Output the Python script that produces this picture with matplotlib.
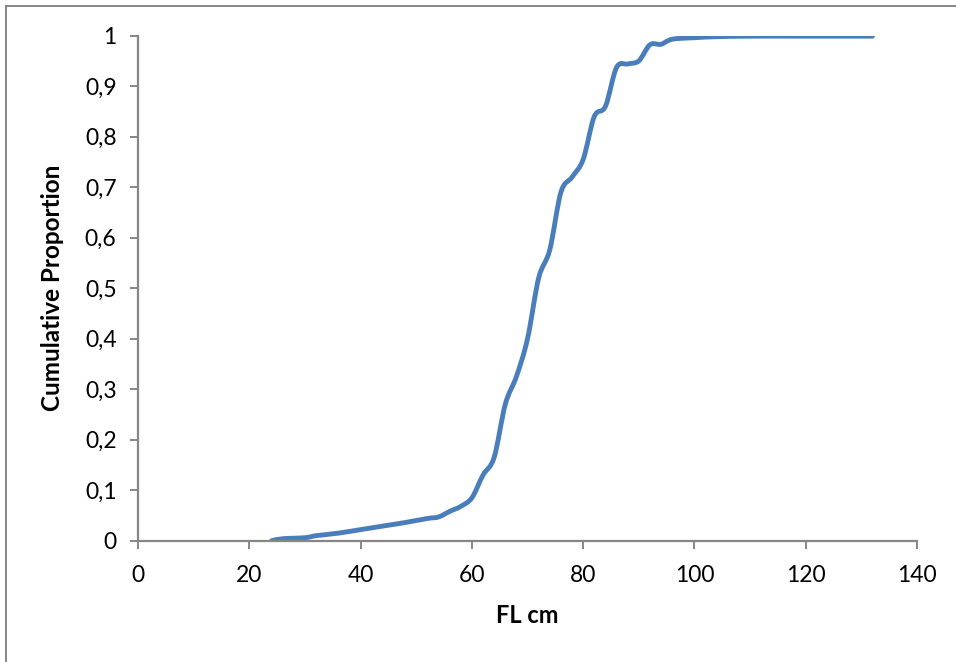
import numpy as np
import matplotlib.pyplot as plt
from matplotlib.path import Path
from matplotlib.patches import PathPatch
from matplotlib.lines import Line2D
from matplotlib.ticker import FuncFormatter

plt.rcParams['font.family'] = ['Lato', 'DejaVu Sans']

# fork length (cm) and cumulative proportion
fl_cm = [24, 26, 30, 32, 36, 40, 44, 48, 52, 54, 56, 58, 60, 62, 64, 66, 68,
         70, 72, 74, 76, 78, 80, 82, 84, 86, 88, 90, 92, 94, 96, 100, 104,
         110, 120, 132]
cum_prop = [0.0, 0.004, 0.006, 0.010, 0.015, 0.022, 0.029, 0.036, 0.044,
            0.047, 0.058, 0.068, 0.085, 0.130, 0.165, 0.270, 0.325, 0.400,
            0.520, 0.576, 0.690, 0.720, 0.755, 0.840, 0.860, 0.937, 0.944,
            0.950, 0.982, 0.983, 0.993, 0.996, 0.998, 0.999, 0.999, 0.999]

x_ticks = [0, 20, 40, 60, 80, 100, 120, 140]
y_ticks = [0, 0.1, 0.2, 0.3, 0.4, 0.5, 0.6, 0.7, 0.8, 0.9, 1]

line_col = '#4A7EBB'
axis_col = '#868686'


def smooth_path(xs, ys):
    # Catmull-Rom style bezier segments, like a spreadsheet "smoothed line"
    pts = np.column_stack([xs, ys]).astype(float)
    n = len(pts)
    verts = [pts[0]]
    codes = [Path.MOVETO]
    for i in range(n - 1):
        p0 = pts[max(i - 1, 0)]
        p1 = pts[i]
        p2 = pts[i + 1]
        p3 = pts[min(i + 2, n - 1)]
        c1 = p1 + (p2 - p0) / 6.0
        c2 = p2 - (p3 - p1) / 6.0
        verts += [c1, c2, p2]
        codes += [Path.CURVE4] * 3
    return Path(verts, codes)


fig = plt.figure(figsize=(9.56, 6.62), dpi=100)
ax = fig.add_axes([0.1444, 0.1832, 0.8148, 0.7629])

ax.add_patch(PathPatch(smooth_path(fl_cm, cum_prop), facecolor='none',
                       edgecolor=line_col, linewidth=3.5, capstyle='round',
                       joinstyle='round'))

ax.set_xlim(0, 140)
ax.set_ylim(0, 1)
ax.set_xticks(x_ticks)
ax.set_yticks(y_ticks)
ax.yaxis.set_major_formatter(FuncFormatter(
    lambda v, p: '0' if v == 0 else ('1' if v == 1 else f'{v:.1f}'.replace('.', ','))))

for s in ['top', 'right']:
    ax.spines[s].set_visible(False)
for s in ['left', 'bottom']:
    ax.spines[s].set_color(axis_col)
    ax.spines[s].set_linewidth(1.6)
ax.tick_params(axis='both', direction='out', length=5.5, width=1.4,
               color=axis_col, labelsize=16.5, labelcolor='black')
ax.tick_params(axis='y', pad=10)
ax.tick_params(axis='x', pad=12)

ax.set_xlabel('FL cm', fontsize=17, fontweight='bold', labelpad=13)
ax.set_ylabel('Cumulative Proportion', fontsize=17.5, fontweight='bold', labelpad=15)

# outer chart frame
fig.add_artist(Line2D([6 / 956, 6 / 956], [0, 1 - 6 / 662], transform=fig.transFigure,
                      color=axis_col, linewidth=1.4))
fig.add_artist(Line2D([6 / 956, 1], [1 - 6 / 662, 1 - 6 / 662], transform=fig.transFigure,
                      color=axis_col, linewidth=1.4))

fig.savefig('out.png', dpi=100)
